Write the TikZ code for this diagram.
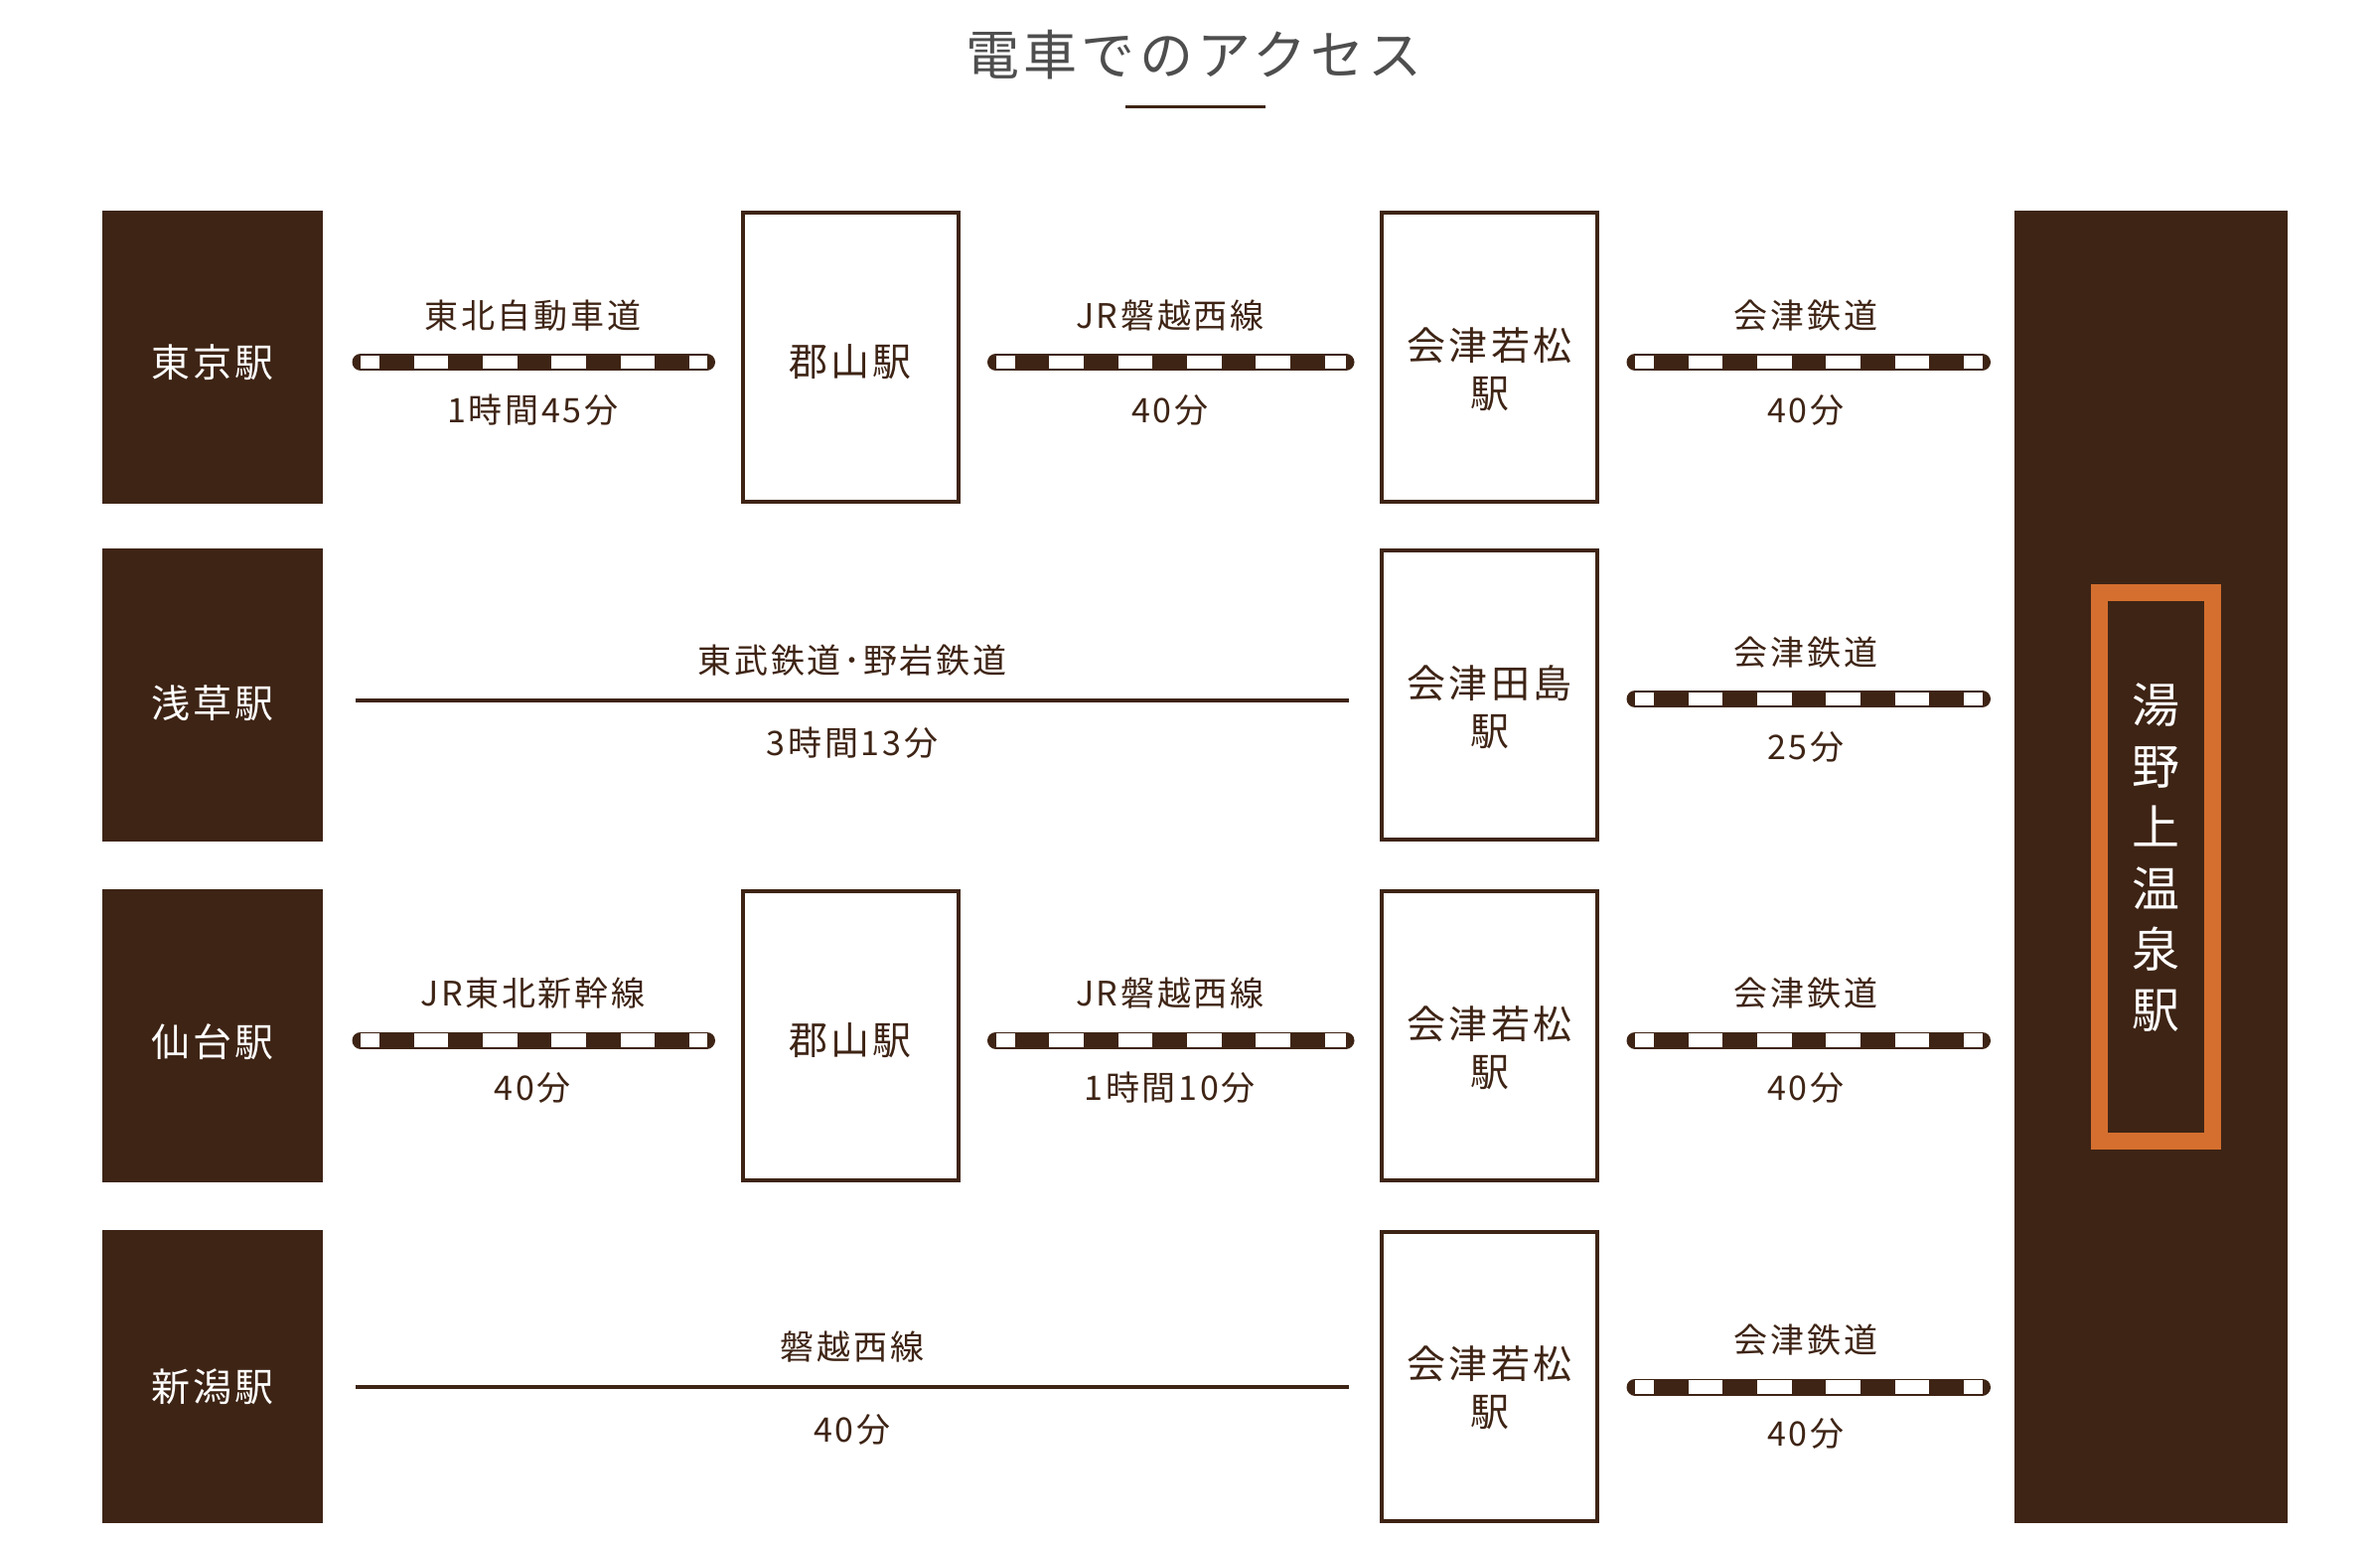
\documentclass[tikz,border=0pt]{standalone}
\usepackage{fontspec}
\setmainfont[LetterSpace=8]{Noto Sans CJK JP}
\usetikzlibrary{positioning}
\definecolor{dbrown}{RGB}{62,36,21}
\definecolor{onsen}{RGB}{213,111,47}
\definecolor{ttlgray}{RGB}{78,78,78}
\newcommand{\labfont}{\fontsize{34}{40}\selectfont}
\newcommand{\stnfont}{\fontsize{39}{48}\selectfont}
\tikzstyle{depart} = [rectangle, fill=dbrown, minimum width=222, minimum height=295, inner sep=0pt, outer sep=0pt]
\tikzstyle{transfer} = [rectangle, draw=dbrown, line width=4pt, minimum width=217, minimum height=291, inner sep=0pt, outer sep=0pt]
\tikzstyle{stn_white} = [text=white, font=\stnfont, inner sep=0pt]
\tikzstyle{stn_brown} = [text=dbrown, font=\stnfont, align=center, inner sep=0pt]
\tikzstyle{goal} = [rectangle, fill=dbrown, minimum width=275, minimum height=1321, inner sep=0pt, outer sep=0pt]
\tikzstyle{goalframe} = [rectangle, draw=onsen, line width=17pt, minimum width=114, minimum height=552, inner sep=0pt]
\tikzstyle{goaltext} = [text=white, font=\fontsize{48}{61.4}\selectfont, align=center, inner sep=0pt]
\tikzstyle{track} = [draw=dbrown, line width=17pt, line cap=round, shorten <=38pt, shorten >=36pt,
    postaction={draw=white, line width=13.3pt, line cap=butt, dash pattern=on 34.67pt off 34.67pt, dash phase=15.67pt}]
\tikzstyle{rail} = [draw=dbrown, line width=4.5pt, shorten <=33pt, shorten >=33pt]
\tikzstyle{lab} = [text=dbrown, font=\labfont, inner sep=0pt]
\tikzstyle{ttl} = [text=ttlgray, font=\fontsize{54}{60}\selectfont, inner sep=0pt]

\begin{document}
\begin{tikzpicture}[x=1pt, y=-1pt, node distance = 340pt]
\useasboundingbox[fill=white] (0,0) rectangle (2396,1551);
%Title:
\node[ttl](T_title) at (1202,55){電車でのアクセス};
\draw[dbrown, line width=3pt] (1133,107) -- (1274,107);
%Departures:
\node[depart, label={[stn_white, yshift=-5pt]center:東京駅}](S_tokyo) at (214,359.5){};
\node[depart, below of = S_tokyo, label={[stn_white, yshift=-8pt]center:浅草駅}](S_asakusa){};
\node[depart, below of = S_asakusa, node distance = 343pt, label={[stn_white, yshift=-6pt]center:仙台駅}](S_sendai){};
\node[depart, below of = S_sendai, node distance = 343pt, label={[stn_white, yshift=-10pt]center:新潟駅}](S_niigata){};
%Transfers:
\node[transfer, right of = S_tokyo, node distance = 642pt, label={[stn_brown, yshift=-5pt]center:郡山駅}](K_one){};
\node[transfer, right of = S_sendai, node distance = 642pt, label={[stn_brown, yshift=-5pt]center:郡山駅}](K_two){};
\node[transfer, right of = S_tokyo, node distance = 1285.5pt, label={[stn_brown, yshift=-12pt]center:会津若松\\駅}](A_waka_one){};
\node[transfer, right of = S_asakusa, node distance = 1285.5pt, label={[stn_brown, yshift=-12pt]center:会津田島\\駅}](A_tajima){};
\node[transfer, right of = S_sendai, node distance = 1285.5pt, label={[stn_brown, yshift=-12pt]center:会津若松\\駅}](A_waka_two){};
\node[transfer, right of = S_niigata, node distance = 1285.5pt, label={[stn_brown, yshift=-11pt]center:会津若松\\駅}](A_waka_three){};
%Destination:
\node[goal](G_yuno) at (2165.5,872.5){};
\node[goalframe](G_frame) at (2170.5,872.5){};
\node[goaltext](G_name) at ([yshift=9pt]G_frame.center){湯\\野\\上\\温\\泉\\駅};
%Routes:
\path([yshift=-5pt]S_tokyo.east)edge[track] node[lab, yshift=47pt](L_tohoku_exp){東北自動車道} node[lab, yshift=-48pt](L_t_one){1時間45分}([yshift=-5pt]K_one.west);
\path([yshift=-5pt]K_one.east)edge[track] node[lab, yshift=47pt](L_banetsu_one){JR磐越西線} node[lab, yshift=-48pt](L_t_two){40分}([yshift=-5pt]A_waka_one.west);
\path([yshift=-5pt]A_waka_one.east)edge[track, shorten >=32.5pt] node[lab, yshift=47pt](L_aizu_one){会津鉄道} node[lab, yshift=-48pt](L_t_three){40分}([yshift=-5pt]A_waka_one.east -| G_yuno.west);
\path([yshift=-5.5pt]S_asakusa.east)edge[rail] node[lab, yshift=40.5pt](L_tobu){東武鉄道･野岩鉄道} node[lab, yshift=-42.5pt](L_t_four){3時間13分}([yshift=-5.5pt]A_tajima.west);
\path([yshift=-4pt]A_tajima.east)edge[track, shorten >=32.5pt] node[lab, yshift=47pt](L_aizu_two){会津鉄道} node[lab, yshift=-48pt](L_t_five){25分}([yshift=-4pt]A_tajima.east -| G_yuno.west);
\path([yshift=-4.5pt]S_sendai.east)edge[track] node[lab, yshift=47pt](L_shinkansen){JR東北新幹線} node[lab, yshift=-48pt](L_t_six){40分}([yshift=-4.5pt]K_two.west);
\path([yshift=-4.5pt]K_two.east)edge[track] node[lab, yshift=47pt](L_banetsu_two){JR磐越西線} node[lab, yshift=-48pt](L_t_seven){1時間10分}([yshift=-4.5pt]A_waka_two.west);
\path([yshift=-4.5pt]A_waka_two.east)edge[track, shorten >=32.5pt] node[lab, yshift=47pt](L_aizu_three){会津鉄道} node[lab, yshift=-48pt](L_t_eight){40分}([yshift=-4.5pt]A_waka_two.east -| G_yuno.west);
\path([yshift=-10.5pt]S_niigata.east)edge[rail] node[lab, yshift=40.5pt](L_banetsu_three){磐越西線} node[lab, yshift=-42.5pt](L_t_nine){40分}([yshift=-10.5pt]A_waka_three.west);
\path([yshift=-10.5pt]A_waka_three.east)edge[track, shorten >=32.5pt] node[lab, yshift=47pt](L_aizu_four){会津鉄道} node[lab, yshift=-47pt](L_t_ten){40分}([yshift=-10.5pt]A_waka_three.east -| G_yuno.west);
\end{tikzpicture}
\end{document}
